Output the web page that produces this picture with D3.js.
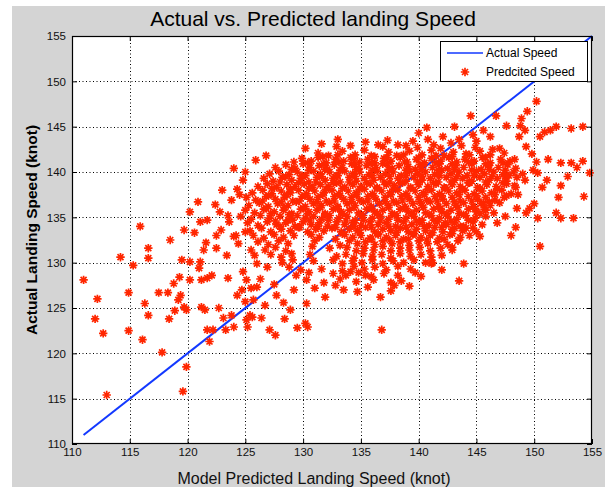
<!DOCTYPE html>
<html><head><meta charset="utf-8">
<script src="https://cdn.jsdelivr.net/npm/d3@7"></script>
<style>body{margin:0;background:#fff}svg text{font-family:"Liberation Sans",Arial,Helvetica,sans-serif}</style>
</head><body><svg id="chart" width="607" height="487"></svg>
<script>
// ---------- data (knots) ----------
const xTicks = [110,115,120,125,130,135,140,145,150,155];
const yTicks = [110,115,120,125,130,135,140,145,150,155];
const titleText = "Actual vs. Predicted landing Speed";
const xLabel = "Model Predicted Landing Speed (knot)";
const yLabel = "Actual Landing Speed (knot)";
const legendLabels = ["Actual Speed","Predcited Speed"];
// "Actual Speed" reference line (y = x)
const lineX = [111,155];
const lineY = [111,155];

// [predicted, actual] pairs
const tailLow = [[111.0,128.1],[114.2,130.6],[112.2,126.0],[112.0,123.8],[112.7,122.2],[113.0,115.4],[114.9,126.7],[114.9,122.5],[115.3,129.7],[116.1,121.5],[116.3,125.5],[116.6,124.2],[116.6,131.6],[116.6,130.5],[117.5,126.7],[117.8,120.1],[118.3,126.7],[118.5,132.5],[118.4,123.8],[118.8,127.7],[118.9,124.7],[119.2,125.9],[119.3,128.4],[119.4,126.4],[119.6,115.8],[119.7,125.1],[119.9,118.5],[119.9,124.8],[119.5,130.3],[120.2,130.1],[119.7,133.6],[120.6,133.3],[121.1,130.1],[121.4,131.4],[121.6,132.2],[121.2,128.1],[121.2,125.1],[121.5,124.8],[121.7,122.6],[121.9,121.3],[122.2,122.6],[122.1,128.6],[122.5,131.6],[122.7,125.0],[123.1,123.9],[123.3,122.6],[123.4,130.8],[123.5,128.3],[123.8,124.2],[124.0,122.9],[124.3,126.4],[124.4,132.1],[124.8,129.0],[125.1,123.7],[125.2,122.9],[125.4,124.2],[125.5,127.2],[115.9,134.0],[122.5,133.0],[124.0,132.9],[125.0,133.4],[125.5,131.4],[126.0,129.9],[124.7,127.0],[125.1,128.1],[125.7,125.9],[126.0,127.3],[121.7,128.3],[121.0,129.4],[120.2,128.1]];

const leftSide = [[120.2,135.6],[121.1,134.5],[121.7,134.7],[122.4,136.4],[123.0,138.0],[123.8,136.9],[124.5,137.5],[125.0,140.0],[122.9,133.6],[120.9,136.7],[124.3,138.1],[123.5,135.2],[122.8,135.6],[123.6,134.5],[124.2,133.0],[124.0,140.4],[125.9,141.3],[126.8,141.8],[124.8,139.1]];

const fringeUpper = [[130.2,142.6],[131.6,143.1],[132.9,142.8],[134.1,142.9],[135.4,143.3],[136.5,143.0],[137.3,143.5],[138.9,142.9],[139.5,143.4],[140.0,144.3],[140.7,144.9],[142.1,143.9],[143.1,145.0],[144.5,146.2],[144.7,144.1],[146.2,143.9],[146.7,146.2],[147.6,145.1],[148.8,145.1],[148.9,145.9],[149.2,144.6],[149.4,146.7],[150.2,147.8],[150.5,143.9],[150.9,144.4],[151.4,144.6],[151.9,145.0],[153.2,144.8],[154.2,145.0],[148.7,143.9],[147.0,142.6],[141.3,143.0],[142.8,143.2],[143.7,142.9],[145.0,143.4],[145.6,144.6],[133.0,143.6],[136.9,142.8],[138.2,143.0],[139.9,142.7],[141.9,142.6],[143.5,143.6],[144.9,142.7],[146.4,142.5],[140.8,143.6]];

const tailRight = [[149.3,142.8],[149.8,142.0],[150.2,141.1],[151.2,141.4],[152.3,141.0],[153.2,141.0],[154.2,141.2],[153.7,140.5],[154.8,139.9],[152.9,139.5],[152.3,138.5],[152.1,137.2],[154.3,137.3],[151.9,135.5],[152.3,134.9],[153.4,134.9],[150.5,131.8],[150.3,134.9],[150.0,136.5],[149.6,136.0],[149.3,135.5],[150.7,138.3],[151.1,139.1],[150.3,139.9],[149.9,140.2],[149.2,139.1],[148.6,137.5],[148.5,136.0],[148.4,133.9],[148.0,133.0],[147.5,135.1],[147.6,137.4],[148.3,138.5],[146.8,134.4],[145.3,132.9],[145.0,133.4],[144.1,133.8],[143.9,129.9],[143.5,128.0],[142.9,131.7],[141.1,129.9],[145.7,135.9],[145.6,136.6],[143.1,133.8],[142.3,134.4],[147.5,139.5],[148.3,141.4]];

const fringeLower = [[136.8,122.6],[139.2,127.4],[139.7,128.9],[141.2,130.0],[135.6,127.3],[134.7,126.8],[133.5,127.0],[135.4,128.6],[134.1,129.0],[130.4,122.9],[130.2,123.3],[127.6,122.0],[128.4,123.8],[128.3,125.6],[130.3,125.5],[131.9,126.2],[125.6,124.0],[125.0,125.7],[126.4,123.9],[126.7,125.3],[127.1,122.6],[128.9,124.8],[129.5,122.8],[132.8,127.5],[137.6,126.9],[138.5,128.0],[140.2,128.5],[142.0,129.2],[131.0,127.2],[129.2,127.0],[127.5,127.6],[126.3,128.2],[126.9,129.5],[125.8,130.8],[127.7,126.4],[136.7,126.2],[137.9,127.5]];

const coreBand = [
[131.3,142.1],[132.2,141.8],[133.4,142.3],[134.5,141.9],[135.3,142.4],[136.2,141.7],[137.4,142.2],[138.1,141.8],[139.2,142.3],[140.3,141.9],[141.1,142.4],[142.2,141.8],[143.0,142.2],[144.1,142.0],[145.3,142.3],[146.2,141.9],[147.4,142.1],
[129.2,141.1],[129.9,141.5],[130.7,141.2],[131.3,141.6],[132.0,141.0],[132.8,141.4],[133.5,141.2],[134.1,141.6],[134.9,141.1],[135.6,141.4],[136.2,141.0],[137.0,141.5],[137.6,141.2],[138.4,141.6],[139.0,141.1],[139.8,141.4],[140.5,141.0],[141.1,141.5],[141.9,141.2],[142.6,141.6],[143.3,141.1],[144.0,141.4],[144.8,141.2],[145.5,141.6],[146.2,141.0],[147.1,141.4],[147.9,141.2],
[127.6,140.5],[128.5,140.8],[129.3,140.4],[130.0,140.9],[130.6,140.5],[131.4,140.7],[132.1,140.3],[132.7,140.8],[133.4,140.5],[134.2,140.9],[134.8,140.4],[135.5,140.7],[136.3,140.5],[136.9,140.9],[137.7,140.4],[138.3,140.7],[139.1,140.6],[139.7,140.3],[140.4,140.8],[141.2,140.5],[141.8,140.9],[142.5,140.4],[143.2,140.7],[143.9,140.5],[144.6,140.9],[145.4,140.3],[146.0,140.7],[146.9,140.5],[147.7,140.8],[148.4,140.4],
[127.1,139.8],[127.9,140.1],[128.8,139.7],[129.5,140.0],[130.2,139.6],[130.9,140.1],[131.5,139.8],[132.3,140.0],[132.9,139.6],[133.6,140.1],[134.3,139.8],[134.9,140.0],[135.7,139.7],[136.4,140.1],[137.1,139.8],[137.8,140.0],[138.5,139.6],[139.2,140.1],[139.9,139.8],[140.6,140.0],[141.4,139.7],[142.0,140.2],[142.8,139.8],[143.5,140.0],[144.2,139.6],[145.0,140.1],[145.7,139.8],[146.5,140.0],[147.3,139.7],[148.2,140.0],[149.0,139.8],
[126.6,139.3],[127.4,139.0],[128.2,139.4],[129.0,139.1],[129.8,139.3],[130.5,138.9],[131.2,139.4],[131.9,139.1],[132.6,139.3],[133.2,138.9],[134.0,139.4],[134.6,139.0],[135.3,139.3],[136.1,139.1],[136.7,139.4],[137.5,138.9],[138.2,139.3],[138.9,139.0],[139.6,139.4],[140.3,139.1],[141.0,139.3],[141.7,138.9],[142.4,139.4],[143.1,139.1],[143.8,139.3],[144.6,139.0],[145.3,139.4],[146.1,139.1],[146.8,139.3],[147.6,139.0],[148.5,139.4],
[126.1,138.4],[126.9,138.7],[127.7,138.3],[128.6,138.6],[129.3,138.4],[130.1,138.7],[130.8,138.3],[131.5,138.6],[132.2,138.4],[132.9,138.8],[133.6,138.3],[134.3,138.6],[135.0,138.4],[135.8,138.7],[136.4,138.3],[137.2,138.6],[137.9,138.5],[138.6,138.8],[139.3,138.3],[140.0,138.6],[140.8,138.4],[141.5,138.7],[142.2,138.3],[142.9,138.6],[143.6,138.4],[144.4,138.8],[145.1,138.3],[145.9,138.6],[146.7,138.4],[147.6,138.7],[148.4,138.3],
[125.6,137.7],[126.5,138.0],[127.3,137.6],[128.1,137.9],[128.9,137.7],[129.6,138.0],[130.3,137.6],[131.0,137.9],[131.8,137.7],[132.5,138.0],[133.1,137.6],[133.9,137.9],[134.6,137.7],[135.3,138.1],[136.0,137.6],[136.8,137.9],[137.5,137.7],[138.2,138.0],[138.9,137.6],[139.7,137.9],[140.4,137.7],[141.1,138.0],[141.8,137.6],[142.6,137.9],[143.3,137.7],[144.0,138.0],[144.8,137.6],[145.5,137.9],[146.3,137.7],[147.2,138.0],[148.0,137.6],
[125.1,137.2],[125.9,136.9],[126.8,137.3],[127.6,137.0],[128.4,137.2],[129.1,136.8],[129.9,137.3],[130.6,137.0],[131.3,137.2],[132.0,136.8],[132.7,137.3],[133.5,137.0],[134.2,137.2],[134.9,136.9],[135.6,137.3],[136.3,137.0],[137.1,137.2],[137.8,136.8],[138.5,137.3],[139.2,137.0],[140.0,137.2],[140.7,136.9],[141.4,137.3],[142.1,137.0],[142.9,137.2],[143.6,136.8],[144.3,137.3],[145.1,137.0],[145.8,137.2],[146.6,136.9],[147.4,137.2],
[125.3,136.3],[126.2,136.6],[127.0,136.2],[127.8,136.5],[128.7,136.3],[129.4,136.7],[130.2,136.2],[130.9,136.5],[131.6,136.3],[132.3,136.6],[133.0,136.2],[133.8,136.5],[134.5,136.3],[135.2,136.7],[135.9,136.2],[136.6,136.5],[137.4,136.3],[138.1,136.6],[138.8,136.2],[139.5,136.5],[140.3,136.3],[141.0,136.7],[141.7,136.2],[142.4,136.5],[143.2,136.3],[143.9,136.6],[144.7,136.2],[145.4,136.5],[146.2,136.3],[147.0,136.6],
[125.0,135.8],[125.8,135.5],[126.6,135.9],[127.5,135.6],[128.3,135.8],[129.0,135.4],[129.8,135.9],[130.5,135.6],[131.2,135.8],[131.9,135.4],[132.6,135.9],[133.3,135.6],[134.0,135.8],[134.8,135.5],[135.5,135.9],[136.2,135.6],[136.9,135.8],[137.7,135.4],[138.4,135.9],[139.1,135.6],[139.8,135.8],[140.6,135.5],[141.3,135.9],[142.0,135.6],[142.8,135.8],[143.5,135.4],[144.3,135.9],[145.0,135.6],[145.8,135.8],[146.5,135.5],
[124.6,135.1],[125.5,134.8],[126.3,135.2],[127.1,134.9],[128.0,135.1],[128.7,134.7],[129.5,135.2],[130.2,134.9],[130.9,135.1],[131.6,134.8],[132.3,135.2],[133.1,134.9],[133.8,135.1],[134.5,134.7],[135.2,135.2],[136.0,134.9],[136.7,135.1],[137.4,134.8],[138.1,135.2],[138.9,134.9],[139.6,135.1],[140.3,134.7],[141.1,135.2],[141.8,134.9],[142.5,135.1],[143.3,134.8],[144.1,135.2],[144.9,134.9],[145.8,135.1],
[125.2,134.4],[126.1,134.1],[126.9,134.5],[127.7,134.2],[128.5,134.4],[129.3,134.0],[130.0,134.5],[130.7,134.2],[131.4,134.4],[132.1,134.0],[132.9,134.5],[133.6,134.2],[134.3,134.4],[135.0,134.1],[135.8,134.5],[136.5,134.2],[137.2,134.4],[138.0,134.0],[138.7,134.5],[139.4,134.2],[140.1,134.4],[140.9,134.1],[141.6,134.5],[142.4,134.2],[143.1,134.4],[143.9,134.0],[144.7,134.5],[145.5,134.2],
[125.4,133.5],[126.4,133.8],[127.2,133.4],[128.1,133.7],[128.9,133.5],[129.6,133.9],[130.4,133.4],[131.1,133.7],[131.8,133.5],[132.5,133.8],[133.3,133.4],[134.0,133.7],[134.7,133.5],[135.4,133.9],[136.2,133.4],[136.9,133.7],[137.6,133.5],[138.4,133.8],[139.1,133.4],[139.8,133.7],[140.6,133.5],[141.4,133.9],[142.1,133.4],[142.9,133.7],[143.8,133.5],[144.7,133.8],
[125.7,133.0],[126.6,132.7],[127.5,133.1],[128.3,132.8],[129.2,133.0],[130.7,133.1],[131.4,132.8],[132.8,132.6],[133.6,133.1],[134.3,132.8],[135.0,133.0],[135.8,132.7],[136.5,133.1],[137.2,132.8],[138.0,133.0],[138.7,132.6],[139.5,133.1],[140.2,132.8],[141.0,133.0],[141.8,132.7],[142.7,133.1],[143.6,132.8],[144.4,133.0],
[126.1,132.3],[127.0,132.0],[127.9,132.4],[128.7,132.1],[131.0,132.4],[133.2,131.9],[134.0,132.4],[134.7,132.1],[135.4,132.3],[136.2,132.0],[136.9,132.4],[137.7,132.1],[138.4,132.3],[139.2,131.9],[140.0,132.4],[140.8,132.1],[141.6,132.3],[142.5,132.0],[143.4,132.4],
[126.7,131.4],[127.6,131.7],[128.5,131.3],[130.8,131.8],[132.3,131.6],[133.8,131.7],[134.6,131.3],[135.3,131.6],[136.1,131.4],[136.9,131.8],[137.6,131.3],[138.4,131.6],[139.2,131.4],[140.1,131.7],[141.0,131.3],[141.9,131.6],[142.9,131.4],
[127.2,130.9],[128.1,130.6],[129.0,131.0],[130.6,130.9],[132.9,130.7],[133.7,130.9],[134.4,130.5],[135.2,131.0],[136.0,130.7],[136.8,130.9],[137.6,130.5],[138.4,131.0],[139.3,130.7],[140.2,130.9],[141.1,130.6],[142.0,130.8],
[128.2,130.0],[129.1,130.3],[130.9,130.2],[132.6,130.3],[133.4,129.9],[134.3,130.2],[135.1,130.0],[136.0,130.3],[136.9,129.9],[137.8,130.2],[138.7,130.0],[139.6,130.3],[140.6,130.0],
[128.8,129.5],[129.8,129.2],[131.6,129.3],[133.4,129.1],[134.4,129.6],[135.3,129.3],[136.2,129.5],[137.2,129.2],[138.2,129.6],[139.3,129.3],
[129.4,128.6],[130.5,128.9],[132.6,128.8],[133.7,128.6],[134.8,128.9],[135.9,128.5],[137.0,128.8],[138.2,128.6],
[130.3,128.1],[131.8,127.8],[133.2,128.2],[134.6,127.9],[136.1,128.1],[137.6,127.8]
];

const coreDense = [
[131.7,141.7],[133.0,141.9],[134.4,141.5],[135.9,141.8],[137.3,141.6],[138.7,141.9],[140.0,141.6],[141.5,141.8],[142.9,141.7],[144.4,141.9],[145.8,141.6],
[130.4,141.0],[131.8,140.9],[133.1,141.1],[134.5,140.8],[135.9,141.0],[137.3,140.9],[138.8,141.1],[140.1,140.8],[141.5,141.0],[142.9,140.9],[144.3,141.1],[145.8,140.9],[147.3,141.0],
[129.0,140.3],[130.5,140.2],[131.9,140.3],[133.2,140.2],[134.6,140.3],[136.0,140.2],[137.4,140.3],[138.9,140.2],[140.2,140.3],[141.7,140.2],[143.1,140.3],[144.6,140.2],[146.1,140.3],[147.5,140.2],
[128.5,139.5],[129.9,139.6],[131.6,139.5],[133.0,139.6],[134.5,139.5],[136.0,139.6],[137.5,139.5],[138.9,139.6],[140.3,139.5],[141.8,139.6],[143.3,139.5],[144.8,139.6],[146.3,139.5],[147.8,139.6],
[128.0,138.9],[129.6,138.8],[131.1,138.9],[132.6,138.8],[134.0,138.9],[135.5,138.8],[137.0,138.9],[138.4,138.8],[139.9,138.9],[141.3,138.8],[142.8,138.9],[144.3,138.8],[145.8,138.9],[147.3,138.8],
[127.3,138.2],[128.9,138.1],[130.5,138.2],[132.0,138.1],[133.4,138.2],[134.9,138.1],[136.4,138.2],[137.8,138.1],[139.3,138.2],[140.8,138.1],[142.3,138.2],[143.8,138.1],[145.3,138.2],[146.8,138.1],
[127.0,137.4],[128.6,137.5],[130.2,137.4],[131.7,137.5],[133.2,137.4],[134.6,137.5],[136.1,137.4],[137.6,137.5],[139.0,137.4],[140.5,137.5],[142.0,137.4],[143.5,137.5],[145.0,137.4],[146.6,137.5],
[126.5,136.8],[128.1,136.7],[129.7,136.8],[131.2,136.7],[132.7,136.8],[134.2,136.7],[135.6,136.8],[137.1,136.7],[138.6,136.8],[140.1,136.7],[141.6,136.8],[143.1,136.7],[144.6,136.8],[146.1,136.7],
[126.8,136.0],[128.4,136.1],[130.0,136.0],[131.5,136.1],[133.0,136.0],[134.4,136.1],[135.9,136.0],[137.4,136.1],[138.9,136.0],[140.4,136.1],[141.9,136.0],[143.4,136.1],[144.9,136.0],
[127.2,135.4],[128.8,135.3],[130.4,135.4],[131.9,135.3],[133.4,135.4],[134.9,135.3],[136.4,135.4],[137.9,135.3],[139.4,135.4],[140.9,135.3],[142.4,135.4],[143.9,135.3],[145.3,135.4],
[127.6,134.6],[129.1,134.7],[130.6,134.6],[132.2,134.7],[133.7,134.6],[135.2,134.7],[136.7,134.6],[138.2,134.7],[139.8,134.6],[141.3,134.7],[142.8,134.6],[144.3,134.7],
[128.0,134.0],[129.7,133.9],[131.3,134.0],[132.8,133.9],[134.4,134.0],[135.9,133.9],[137.4,134.0],[138.9,133.9],[140.5,134.0],[142.0,133.9],[143.6,134.0],
[133.4,133.2],[134.9,133.3],[136.5,133.2],[138.1,133.3],[139.6,133.2],[141.2,133.3],[142.9,133.2],
[135.9,132.6],[137.5,132.5],[139.1,132.6],[140.7,132.5],[142.2,132.6]
];

const predictedActual = [].concat(tailLow, leftSide, fringeUpper, tailRight, fringeLower, coreBand, coreDense);

// ---------- drawing ----------
const svg = d3.select("#chart");
const box = {l:72, r:592, t:36, b:444};
const x = d3.scaleLinear().domain([110,155]).range([box.l, box.r]);
const y = d3.scaleLinear().domain([110,155]).range([box.b, box.t]);
const RED = "#ff2600", BLUE = "#1238ff";

svg.append("rect").attr("x",12).attr("y",6).attr("width",593).attr("height",481).attr("fill","#d4d4d4");
svg.append("rect").attr("x",box.l).attr("y",box.t).attr("width",box.r-box.l).attr("height",box.b-box.t).attr("fill","#fff");

// grid
const grid = svg.append("g").attr("stroke","#000").attr("stroke-width",1).attr("stroke-dasharray","1,2.5");
xTicks.slice(1,-1).forEach(t => grid.append("line").attr("x1",Math.round(x(t))+0.5).attr("x2",Math.round(x(t))+0.5).attr("y1",box.t).attr("y2",box.b));
yTicks.slice(1,-1).forEach(t => grid.append("line").attr("y1",Math.round(y(t))+0.5).attr("y2",Math.round(y(t))+0.5).attr("x1",box.l).attr("x2",box.r));

// axes
const fmt = d3.format("d");
svg.append("g").attr("transform",`translate(0,${box.b})`).call(d3.axisBottom(x).tickValues(xTicks).tickFormat(fmt).tickSize(-5).tickSizeOuter(0).tickPadding(4));
svg.append("g").attr("transform",`translate(${box.l},0)`).call(d3.axisLeft(y).tickValues(yTicks).tickFormat(fmt).tickSize(-5).tickSizeOuter(0).tickPadding(6));
svg.append("g").attr("transform",`translate(0,${box.t})`).call(d3.axisTop(x).tickValues(xTicks).tickFormat("").tickSize(-5).tickSizeOuter(0));
svg.append("g").attr("transform",`translate(${box.r},0)`).call(d3.axisRight(y).tickValues(yTicks).tickFormat("").tickSize(-5).tickSizeOuter(0));
svg.selectAll(".domain").remove();
svg.selectAll(".tick line").attr("stroke","#000");
svg.selectAll(".tick text").attr("font-size","11.5px").attr("fill","#111").attr("font-family","Liberation Sans, Arial, sans-serif");

// reference line
const plot = svg.append("g");
plot.append("path").datum(lineX.map((v,i)=>[v,lineY[i]]))
  .attr("d", d3.line().x(d=>x(d[0])).y(d=>y(d[1])))
  .attr("fill","none").attr("stroke",BLUE).attr("stroke-width",2);

// asterisk marker
const r = 4.2, a = 3.0;
const star = `M${-r},0H${r}M0,${-r}V${r}M${-a},${-a}L${a},${a}M${-a},${a}L${a},${-a}`;
plot.append("g").selectAll("path").data(predictedActual).join("path")
  .attr("d", star)
  .attr("transform", d => `translate(${x(d[0]).toFixed(1)},${y(d[1]).toFixed(1)})`)
  .attr("fill","none").attr("stroke",RED).attr("stroke-width",1.7);

// frame
svg.append("rect").attr("x",box.l+0.5).attr("y",box.t+0.5).attr("width",box.r-box.l-1).attr("height",box.b-box.t-1)
  .attr("fill","none").attr("stroke","#000").attr("stroke-width",1.2);

// title & labels
svg.append("text").attr("x",313).attr("y",26).attr("text-anchor","middle").attr("font-size","21px").attr("fill","#000").text(titleText);
svg.append("text").attr("x",314).attr("y",484).attr("text-anchor","middle").attr("font-size","16px").attr("fill","#111").text(xLabel);
svg.append("text").attr("transform","translate(37,230) rotate(-90)").attr("text-anchor","middle").attr("font-size","15.5px").attr("font-weight","bold").attr("fill","#000").text(yLabel);

// legend
const lg = svg.append("g");
lg.append("rect").attr("x",440.5).attr("y",41.5).attr("width",147).attr("height",40).attr("fill","#fff").attr("stroke","#000").attr("stroke-width",1);
lg.append("line").attr("x1",447).attr("x2",483).attr("y1",53).attr("y2",53).attr("stroke",BLUE).attr("stroke-width",1.5);
lg.append("path").attr("d",star).attr("transform","translate(465,72)").attr("fill","none").attr("stroke",RED).attr("stroke-width",1.7);
lg.append("text").attr("x",486).attr("y",57).attr("font-size","12px").attr("fill","#000").text(legendLabels[0]);
lg.append("text").attr("x",486).attr("y",76).attr("font-size","12px").attr("fill","#000").text(legendLabels[1]);
</script></body></html>
